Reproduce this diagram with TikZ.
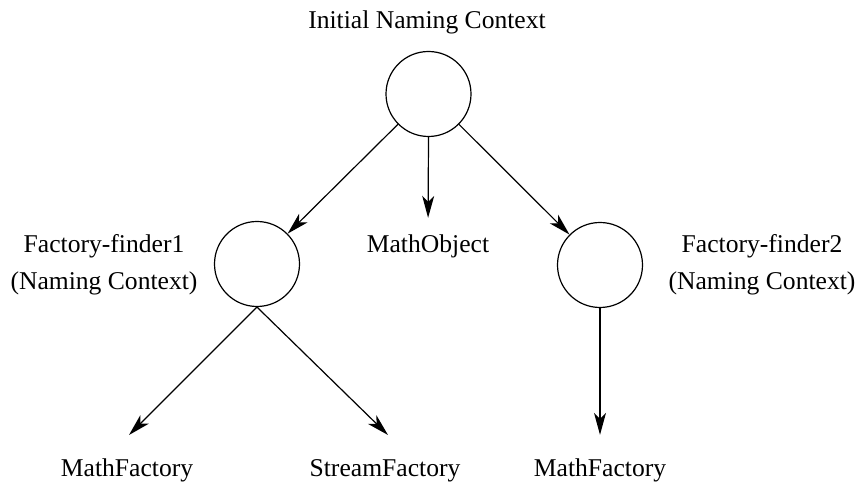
\documentclass[tikz,border=0pt]{standalone}
\usepackage{fontspec}
\setmainfont{Liberation Serif}
\usetikzlibrary{arrows.meta,positioning}
\tikzset{
ctx/.style={
  circle,
  draw,
  line width=0.6pt,
  minimum size=42.5pt,
  inner sep=0pt
  },
lbl/.style={
  anchor=base,
  inner sep=0pt,
  font=\fontsize{12.8}{15}\selectfont
  },
link/.style={
  -{Stealth[length=11pt,width=6pt,inset=3pt]},
  line width=0.6pt
  }
}

\begin{document}
\begin{tikzpicture}[x=0.5pt, y=-0.5pt]
\useasboundingbox (0,0) rectangle (857,485);

% naming contexts
\node[ctx] (root) at (428.5,94) {};
\node[ctx] (ff1) at (257,264) {};
\node[ctx] (ff2) at (600,265) {};

% labels
\node[lbl] (title) at (427,29) {Initial Naming Context};
\node[lbl] (mobj) at (428,253) {MathObject};
\node[lbl] (ff1name) at (104,253) {Factory-finder1};
\node[lbl] (ff1kind) at (104,290) {(Naming Context)};
\node[lbl] (ff2name) at (762,253) {Factory-finder2};
\node[lbl] (ff2kind) at (762,290) {(Naming Context)};
\node[lbl] (mf1) at (127,477) {MathFactory};
\node[lbl] (sf) at (385,477) {StreamFactory};
\node[lbl] (mf2) at (600,477) {MathFactory};

\coordinate (mf1in) at (129,435);
\coordinate (sfin) at (388,435);

% bindings
\draw[link] (root) -- (ff1);
\draw[link, shorten >=8.5pt] (root.south) -- (mobj.north);
\draw[link] (root) -- (ff2);
\draw[link] (ff1.south) -- (mf1in);
\draw[link] (ff1.south) -- (sfin);
\draw[link, shorten >=12pt] (ff2.south) -- (mf2.north);
\end{tikzpicture}
\end{document}
